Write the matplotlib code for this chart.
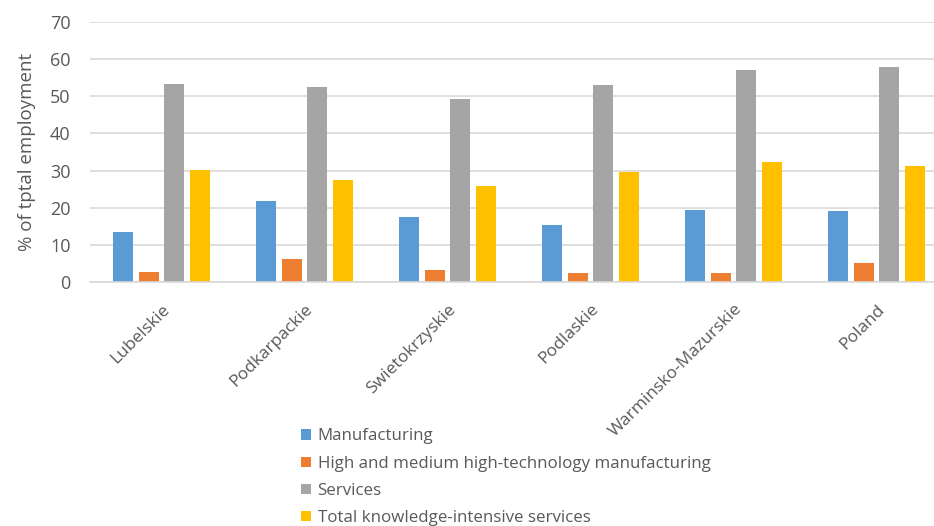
import numpy as np
import matplotlib.pyplot as plt


plt.rcParams.update({'font.family': ['Open Sans', 'DejaVu Sans'], 'font.size': 11})


regions = ['Lubelskie', 'Podkarpackie', 'Swietokrzyskie', 'Podlaskie',
           'Warminsko-Mazurskie', 'Poland']
manufacturing = [13.5, 21.9, 17.4, 15.4, 19.3, 19.1]
high_tech = [2.7, 6.1, 3.1, 2.4, 2.4, 5.0]
services = [53.3, 52.5, 49.2, 53.1, 57.0, 58.0]
knowledge = [30.1, 27.4, 25.8, 29.5, 32.2, 31.2]

series = [
	('Manufacturing', manufacturing, '#5B9BD5'),
	('High and medium high-technology manufacturing', high_tech, '#ED7D31'),
	('Services', services, '#A5A5A5'),
	('Total knowledge-intensive services', knowledge, '#FFC000'),
]

TEXT = '#595959'

fig = plt.figure(figsize=(9.34, 5.26), dpi=100)
axis = fig.add_axes([90 / 934, 1 - 281.7 / 526, 858 / 934, 259.4 / 526])

x = np.arange(len(regions))
step = 0.18
width = 0.14
for i, (name, values, color) in enumerate(series):
	axis.bar(x + (i - 1.5) * step, values, width, color=color, label=name, zorder=2)

axis.set_xlim(-0.5, len(regions) - 0.5)
axis.set_ylim(0, 70)
axis.set_yticks(range(0, 71, 10))
axis.yaxis.grid(True, color='#d9d9d9', linewidth=1.2, zorder=0)
axis.set_axisbelow(True)
for side in ['top', 'right', 'left']:
	axis.spines[side].set_visible(False)
axis.spines['bottom'].set_color('#d9d9d9')
axis.spines['bottom'].set_linewidth(1.2)
axis.tick_params(axis='both', length=0, colors=TEXT, labelsize=13)
axis.tick_params(axis='y', pad=14)
axis.set_xticks(x)
axis.set_xticklabels(regions, rotation=45, ha='right', va='top',
                     rotation_mode='anchor', fontsize=12.5)
axis.tick_params(axis='x', pad=14)
axis.set_ylabel('% of tptal employment', color=TEXT, fontsize=13.5, labelpad=10)

handles, labels = axis.get_legend_handles_labels()
fig.legend(handles, labels, loc='upper left', bbox_to_anchor=(293 / 934, 1 - 420 / 526),
           frameon=False, labelcolor=TEXT, fontsize=12.2, handlelength=0.55,
           handleheight=0.55, handletextpad=0.4, labelspacing=0.66, borderpad=0)

fig.savefig('out.png', dpi=100)
